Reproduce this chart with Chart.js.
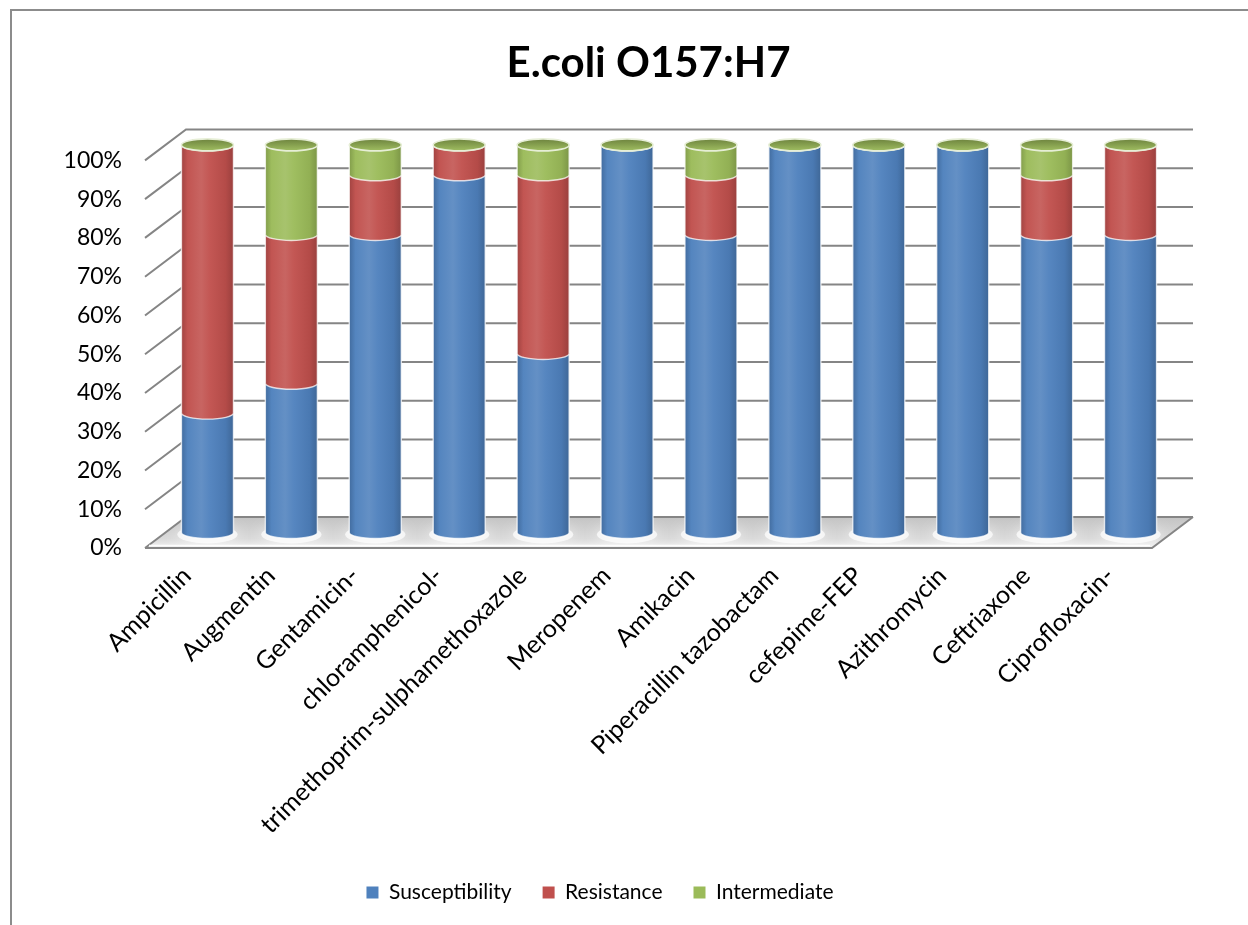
<!DOCTYPE html>
<html>
<head>
<meta charset="utf-8">
<title>E.coli O157:H7</title>
<script src="https://cdn.jsdelivr.net/npm/chart.js@4.4.1/dist/chart.umd.min.js"></script>
<style>
  html, body { margin: 0; padding: 0; background: #ffffff; }
  #wrap { width: 1248px; height: 925px; position: relative; }
</style>
</head>
<body>
<div id="wrap"><canvas id="chart" width="1248" height="925"></canvas></div>
<script>
// Antibiotic susceptibility profile of E. coli O157:H7 isolates (percent)
const categories = [
  'Ampicillin', 'Augmentin', 'Gentamicin-', 'chloramphenicol-',
  'trimethoprim-sulphamethoxazole', 'Meropenem', 'Amikacin',
  'Piperacillin tazobactam', 'cefepime-FEP', 'Azithromycin',
  'Ceftriaxone', 'Ciprofloxacin-'
];
const susceptibility = [30.8, 38.5, 76.9, 92.3, 46.2, 100, 76.9, 100, 100, 100, 76.9, 76.9];
const resistance     = [69.2, 38.4, 15.4, 7.7, 46.1, 0, 15.4, 0, 0, 0, 15.4, 23.1];
const intermediate   = [0, 23.1, 7.7, 0, 7.7, 0, 7.7, 0, 0, 0, 7.7, 0];
const seriesNames = ['Susceptibility', 'Resistance', 'Intermediate'];
const seriesColors = ['#4F81BD', '#C0504D', '#9BBB59'];
const yTicks = [0, 10, 20, 30, 40, 50, 60, 70, 80, 90, 100];

// depth of the 3D box (back wall offset from the front plane)
const DX = 41, DY = -31;
const FONT = 'Lato, "Open Sans", "Noto Sans", sans-serif';

function mix(hex, amt) {
  // amt > 0 lightens toward white, amt < 0 darkens toward black
  const n = parseInt(hex.slice(1), 16);
  let r = (n >> 16) & 255, g = (n >> 8) & 255, b = n & 255;
  const t = amt > 0 ? 255 : 0, p = Math.abs(amt);
  r = Math.round(r + (t - r) * p); g = Math.round(g + (t - g) * p); b = Math.round(b + (t - b) * p);
  return `rgb(${r},${g},${b})`;
}

function bodyGradient(ctx, left, right, color) {
  const g = ctx.createLinearGradient(left, 0, right, 0);
  g.addColorStop(0, mix(color, -0.16));
  g.addColorStop(0.12, mix(color, 0.03));
  g.addColorStop(0.38, mix(color, 0.12));
  g.addColorStop(0.55, mix(color, 0.04));
  g.addColorStop(0.85, mix(color, -0.06));
  g.addColorStop(1, mix(color, -0.2));
  return g;
}

function drawSegment(ctx, cx, rx, ry, top, bot, color) {
  const l = cx - rx, r = cx + rx;
  ctx.beginPath();
  ctx.moveTo(l, top);
  ctx.lineTo(l, bot);
  ctx.ellipse(cx, bot, rx, ry, 0, Math.PI, 0, true);
  ctx.lineTo(r, top);
  ctx.ellipse(cx, top, rx, ry, 0, 0, Math.PI, true);
  ctx.closePath();
  ctx.fillStyle = bodyGradient(ctx, l, r, color);
  ctx.fill();
  // light rim along the sides and the lower front edge
  ctx.strokeStyle = 'rgba(255,255,255,0.75)';
  ctx.lineWidth = 1.4;
  ctx.beginPath();
  ctx.moveTo(l, top); ctx.lineTo(l, bot);
  ctx.ellipse(cx, bot, rx, ry, 0, Math.PI, 0, true);
  ctx.lineTo(r, top);
  ctx.stroke();
}

function drawCap(ctx, cx, rx, ry, top, color) {
  const g = ctx.createLinearGradient(0, top - ry, 0, top + ry);
  g.addColorStop(0, mix(color, -0.3));
  g.addColorStop(1, mix(color, 0.05));
  ctx.beginPath();
  ctx.ellipse(cx, top, rx, ry, 0, 0, Math.PI * 2);
  ctx.fillStyle = g;
  ctx.fill();
  ctx.strokeStyle = mix(color, 0.75);
  ctx.lineWidth = 1.6;
  ctx.stroke();
}

const view3d = {
  id: 'view3d',
  beforeDatasetsDraw(chart) {
    const { ctx, chartArea: a, scales: { y } } = chart;
    const y0 = y.getPixelForValue(0);
    ctx.save();

    // floor of the box
    ctx.beginPath();
    ctx.moveTo(a.left, y0); ctx.lineTo(a.right, y0);
    ctx.lineTo(a.right + DX, y0 + DY); ctx.lineTo(a.left + DX, y0 + DY);
    ctx.closePath();
    const fg = ctx.createLinearGradient(0, y0 + DY, 0, y0);
    fg.addColorStop(0, '#c4c4c4');
    fg.addColorStop(0.7, '#dadada');
    fg.addColorStop(1, '#f2f2f2');
    ctx.fillStyle = fg;
    ctx.fill();
    ctx.save();
    ctx.clip();
    chart.getDatasetMeta(0).data.forEach(el => {
      ctx.beginPath();
      ctx.ellipse(el.x + DX / 2, y0 + DY / 2 + 2, el.width * 0.58, 9, 0, 0, Math.PI * 2);
      ctx.fillStyle = 'rgba(255,255,255,0.7)';
      ctx.shadowColor = 'rgba(255,255,255,0.9)';
      ctx.shadowBlur = 14;
      ctx.fill();
    });
    ctx.restore();

    // grid lines: side wall diagonal + back wall horizontal
    ctx.strokeStyle = '#858585';
    ctx.lineWidth = 2;
    y.ticks.forEach(t => {
      const py = y.getPixelForValue(t.value);
      ctx.beginPath();
      ctx.moveTo(a.left, py);
      ctx.lineTo(a.left + DX, py + DY);
      ctx.lineTo(a.right + DX, py + DY);
      ctx.stroke();
    });

    // floor front and right edges
    ctx.beginPath();
    ctx.moveTo(a.left, y0); ctx.lineTo(a.right, y0);
    ctx.lineTo(a.right + DX, y0 + DY);
    ctx.stroke();
    ctx.strokeStyle = 'rgba(255,255,255,0.9)';
    ctx.lineWidth = 1.5;
    ctx.beginPath();
    ctx.moveTo(a.left + 4, y0 - 2.5); ctx.lineTo(a.right - 2, y0 - 2.5);
    ctx.stroke();

    // stacked cylinders, sitting half way into the box
    const n = chart.data.labels.length;
    const dsCount = chart.data.datasets.length;
    for (let i = 0; i < n; i++) {
      let topY = null, cx = 0, rx = 0;
      for (let d = 0; d < dsCount; d++) {
        const el = chart.getDatasetMeta(d).data[i];
        cx = el.x + DX / 2;
        rx = el.width / 2;
        const top = el.y + DY / 2, bot = el.base + DY / 2;
        drawSegment(ctx, cx, rx, 6, top, bot, seriesColors[d]);
        topY = top;
      }
      drawCap(ctx, cx, rx, 6, topY, seriesColors[dsCount - 1]);
    }
    ctx.restore();
    return false;
  }
};

const frame = {
  id: 'frame',
  afterDraw(chart) {
    const ctx = chart.ctx;
    ctx.save();
    ctx.strokeStyle = '#8c8c8c';
    ctx.lineWidth = 2;
    ctx.beginPath();
    ctx.moveTo(11, 925); ctx.lineTo(11, 10); ctx.lineTo(1248, 10);
    ctx.stroke();
    ctx.restore();
  }
};

const seriesData = [susceptibility, resistance, intermediate];

new Chart(document.getElementById('chart'), {
  type: 'bar',
  data: {
    labels: categories,
    datasets: seriesData.map((vals, k) => ({
      label: seriesNames[k],
      data: vals,
      backgroundColor: seriesColors[k],
      borderWidth: 0,
      categoryPercentage: 1.0,
      barPercentage: 0.62
    }))
  },
  options: {
    responsive: false,
    animation: false,
    layout: { padding: { left: 0, right: 48, top: 0, bottom: 12 } },
    plugins: {
      title: {
        display: true,
        fullSize: false,
        text: 'E.coli O157:H7',
        color: '#000',
        font: { family: FONT, size: 42, weight: 'bold' },
        padding: { top: 38, bottom: 72 }
      },
      legend: {
        position: 'bottom',
        labels: {
          color: '#000',
          font: { family: FONT, size: 21 },
          boxWidth: 12,
          boxHeight: 12,
          padding: 31
        }
      },
      tooltip: { enabled: false }
    },
    scales: {
      x: {
        stacked: true,
        grid: { display: false, drawTicks: false },
        border: { display: false },
        ticks: {
          color: '#000',
          font: { family: FONT, size: 25 },
          minRotation: 45,
          maxRotation: 45,
          autoSkip: false,
          padding: 13
        },
        afterFit(scale) { scale.height = 303; }
      },
      y: {
        stacked: true,
        min: 0,
        max: 100,
        afterBuildTicks(scale) { scale.ticks = yTicks.map(v => ({ value: v })); },
        grid: { display: false, drawTicks: false },
        border: { display: false },
        ticks: {
          color: '#000',
          font: { family: FONT, size: 23 },
          padding: 23,
          callback: v => v + '%'
        },
        afterFit(scale) { scale.width = 145; }
      },
      // empty right-hand margin that leaves room for the box depth
      side: {
        type: 'linear',
        position: 'right',
        display: true,
        grid: { display: false, drawTicks: false },
        border: { display: false },
        ticks: { display: false },
        afterFit(scale) { scale.width = 48; }
      }
    }
  },
  plugins: [view3d, frame]
});
</script>
</body>
</html>
